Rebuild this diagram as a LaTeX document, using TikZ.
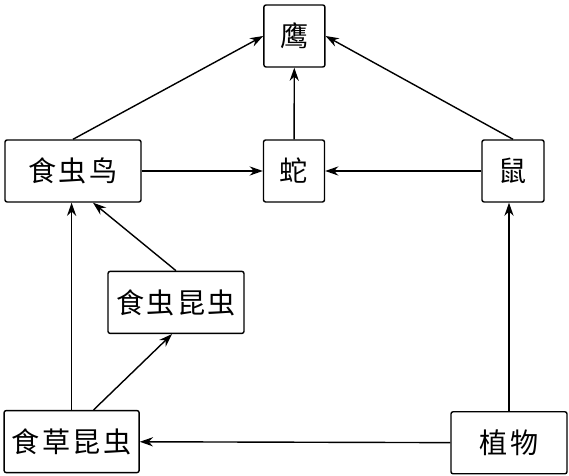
\documentclass[tikz,border=0pt]{standalone}
\usepackage{fontspec}
\newfontfamily\cjk[LetterSpace=8]{Noto Sans CJK SC}
\usepackage{tikz}
\usetikzlibrary{calc}
\usetikzlibrary{arrows.meta}
\tikzset{
  foodNode/.style={%
    draw, rounded corners=1.5pt, line width=1pt, inner sep=0pt,
    minimum height=1.55cm, font=\cjk\fontsize{20}{24}\selectfont,
  },
  feedsOn/.style={%
    -{Stealth[length=3.3mm,width=2.3mm]}, line width=1pt,
  }
}

\begin{document}
\begin{tikzpicture}
          \useasboundingbox (0,0) rectangle (14.225,11.9);

          \node[foodNode,minimum width=1.525cm] (Eagle) at (7.36,11.0) {鹰};
          \node[foodNode,minimum width=3.4cm] (Bird) at (1.825,7.625) {食虫鸟};
          \node[foodNode,minimum width=1.525cm] (Snake) at (7.35,7.625) {蛇};
          \node[foodNode,minimum width=1.55cm] (Mouse) at (12.825,7.625) {鼠};
          \node[foodNode,minimum width=3.4cm] (Insect) at (4.4,4.34) {食虫昆虫};
          \node[foodNode,minimum width=3.375cm] (Herbivore) at (1.79,0.86) {食草昆虫};
          \node[foodNode,minimum width=2.9cm] (Plant) at (12.725,0.83) {植物};

          \draw[feedsOn]
          (Bird.north) -- (Eagle.west);
          \draw[feedsOn] (Snake) -- (Eagle);
          \draw[feedsOn] (Mouse.north) -- (Eagle.east);
          \draw[feedsOn] (Bird) -- (Snake);
          \draw[feedsOn] (Mouse) -- (Snake);
          \draw[feedsOn] (Insect.north) -- ([xshift=5mm]Bird.south);
          \draw[feedsOn] (Herbivore.north) -- (Herbivore.north |- Bird.south);
          \draw[feedsOn] ([xshift=5.5mm]Herbivore.north) -- ([xshift=-1mm]Insect.south);
          \draw[feedsOn] (Plant.north) -- (Plant.north |- Mouse.south);
          \draw[feedsOn] (Plant) -- (Herbivore);
        \end{tikzpicture}
\end{document}
